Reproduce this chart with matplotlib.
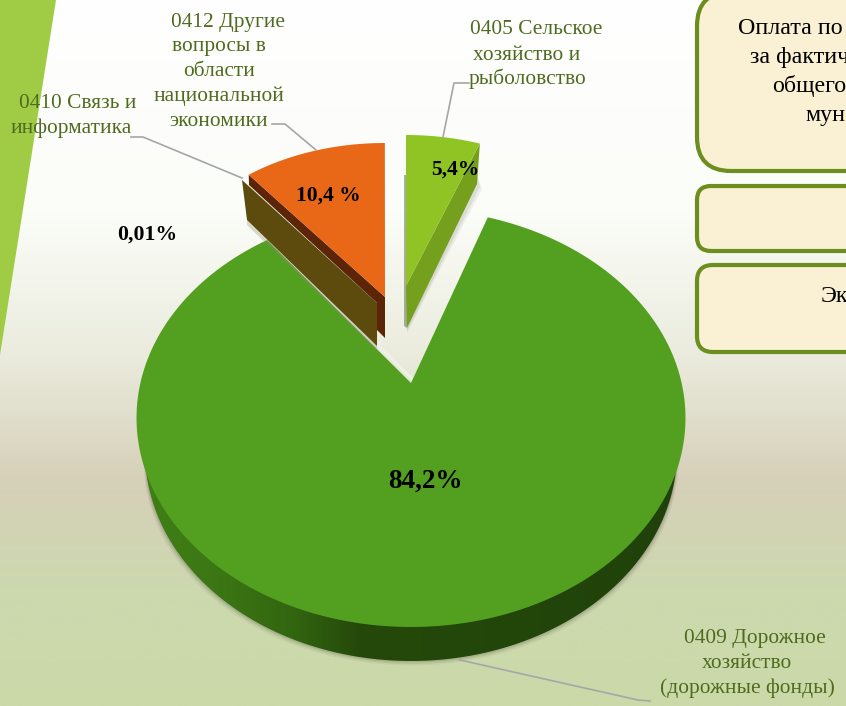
import numpy as np
import matplotlib
matplotlib.use("Agg")
import matplotlib.pyplot as plt
from matplotlib.patches import Polygon, FancyBboxPatch
from matplotlib.colors import LinearSegmentedColormap

plt.rcParams["font.family"] = ["Liberation Serif", "DejaVu Serif"]

sectors = ["0405", "0409", "0412", "0410"]
shares = [5.4, 84.2, 10.4, 0.01]
share_labels = ["5,4%", "84,2%", "10,4 %", "0,01%"]
category_lines = [
    ["0405 Сельское", "хозяйство и", "рыболовство"],
    ["0409 Дорожное", "хозяйство", "(дорожные фонды)"],
    ["0412 Другие", "вопросы в", "области", "национальной", "экономики"],
    ["0410 Связь и", "информатика"],
]
box_lines = ["Оплата по", "за фактич", "общего", "мун", "Эк"]

# angle limits of each slice
edges = np.cumsum([0] + shares) / sum(shares) * 360
edges_by = {s: (edges[i], edges[i + 1]) for i, s in enumerate(sectors)}

W, H = 846, 706
fig = plt.figure(figsize=(W / 100, H / 100), dpi=100)
ax = fig.add_axes([0, 0, 1, 1])

# background
bg = LinearSegmentedColormap.from_list("bg", [
    (0.00, "#ffffff"), (0.30, "#fbfdf8"), (0.50, "#ebecde"),
    (0.68, "#d6d0b9"), (0.85, "#ccd9ae"), (1.00, "#cbd9a9")])
ax.imshow(np.linspace(0, 1, 256)[:, None], cmap=bg, extent=[0, W, H, 0], aspect="auto", zorder=0)
ax.add_patch(Polygon([(0, 0), (56, 0), (0, 355)], fc="#a0cc45", ec="none", zorder=1))


def ray_arc(a0, a1, apex, centre, rx, ry, n=200):
    """Points on an ellipse around centre, along rays leaving the apex at the slice angles."""
    t = np.radians(np.linspace(a0, a1, n))
    dx, dy = np.sin(t) * rx, -np.cos(t) * ry
    ox, oy = (apex[0] - centre[0]) / rx, (apex[1] - centre[1]) / ry
    ux, uy = dx / rx, dy / ry
    a = ux**2 + uy**2
    b = 2 * (ox * ux + oy * uy)
    c = ox**2 + oy**2 - 1
    s = (-b + np.sqrt(b**2 - 4 * a * c)) / (2 * a)
    return np.column_stack([apex[0] + s * dx, apex[1] + s * dy])


def add_poly(pts, color, z, **kw):
    p = Polygon(pts, closed=True, fc=color, ec="none", zorder=z, **kw)
    ax.add_patch(p)
    return p


def half_ellipse(centre, rx, ry, grow=0, n=300):
    # grow fades to nothing at the two ends, so a shadow has no hard top
    t = np.radians(np.linspace(90, 270, n))
    g = grow * np.abs(np.cos(t)) ** 0.6
    return np.column_stack([centre[0] + (rx + g) * np.sin(t), centre[1] - (ry + g * 0.5) * np.cos(t)])


# main slice
main_apex = (411, 383)
main_c = (411, 418)
main_rx, main_ry = 274.5, 209
a0, a1 = edges_by["0409"]
arc = ray_arc(a0, a1, main_apex, main_c, main_rx, main_ry)

# side wall: the lower rim is a narrower ellipse, hidden by the top near the widest point
base_c = (411, 452)
base_rx, base_ry = 266, 209

# soft shadow under the wall
for grow, alpha in [(9, 0.05), (6, 0.08), (3, 0.12)]:
    add_poly(half_ellipse(base_c, base_rx, base_ry, grow), "#303020", 2, alpha=alpha)

side_cm = LinearSegmentedColormap.from_list("side", [
    (0.00, "#3f7f16"), (0.12, "#3c7814"), (0.28, "#326510"), (0.40, "#25490b"), (1.00, "#20420a")])
clip = add_poly(half_ellipse(base_c, base_rx, base_ry), "none", 3)
im = ax.imshow(np.linspace(0, 1, 256)[None, :], cmap=side_cm, aspect="auto", zorder=3,
               extent=[145, 677, 680, 400])
im.set_clip_path(clip)

# light edge along the cut of the main slice
ax.plot([arc[-1, 0] + 3, main_apex[0] + 2], [arc[-1, 1] - 2, main_apex[1] - 3], color="#eef1e6", lw=2, zorder=3)
add_poly(np.vstack([main_apex, arc]), "#53a020", 4)

# 0410: thin slice, seen only as a wall
add_poly([(242, 180), (377, 303), (377, 346), (247, 220)], "#5c4b0d", 6)
add_poly([(247, 225), (377, 351), (377, 346), (247, 220)], "#8a8a70", 5, alpha=0.3)

# 0412 slice
or_apex = (385, 297)
a0, a1 = edges_by["0412"]
arc = ray_arc(a0, a1, or_apex, or_apex, 224, 154)
add_poly([arc[0], or_apex, (385, 338), (377, 330), (377, 303), (249, 185)], "#5c2508", 5)
add_poly(np.vstack([or_apex, arc]), "#e96818", 6)

# 0405 slice
gr_apex = (406, 286)
a0, a1 = edges_by["0405"]
arc = ray_arc(a0, a1, gr_apex, gr_apex, 222, 151)
side = [arc[-1], (477, 184), (407, 328), gr_apex]
for grow, alpha in [(5, 0.07), (3, 0.1)]:
    add_poly([(477 + grow, 184 + grow), (407, 328 + grow), (407, 320), (477, 175)], "#404030", 2, alpha=alpha)
add_poly([(404, 175), (404, 326), (407, 328), (407, 175)], "#6f7f60", 2, alpha=0.6)
add_poly(side, "#74a01e", 5)
add_poly(np.vstack([gr_apex, arc]), "#8fc424", 6)

# leader lines
leaders = [
    ([272, 285, 316], [124, 124, 150]),
    ([131, 143, 242], [137, 137, 178]),
    ([469, 454, 443], [83, 83, 137]),
    ([460, 638, 650], [660, 700, 701]),
]
for lx, ly in leaders:
    ax.plot(lx, ly, color="#a6a6a6", lw=1.2, zorder=7)

# category labels
label_pos = [
    [(536, 29), (527, 55), (527, 79)],
    [(755, 639), (747, 664), (747, 688)],
    [(228, 23), (219, 47), (219, 72), (219, 96), (219, 121)],
    [(78, 103), (71, 128)],
]
for lines, pos in zip(category_lines, label_pos):
    for s, (x, y) in zip(lines, pos):
        ax.text(x, y, s, color="#4f6b1f", fontsize=15.4, ha="center", va="center", zorder=8)

# share labels
share_pos = [(455, 170), (425, 481), (328, 196), (147, 235)]
share_size = [15.5, 19.5, 15.5, 15.7]
for s, (x, y), fs in zip(share_labels, share_pos, share_size):
    ax.text(x, y, s, color="black", fontsize=fs, fontweight="bold", ha="center", va="center", zorder=8)

# boxes at the right edge, cut by the frame as in the original slide
boxes = [(697, -8, 200, 179, 34), (697, 186, 200, 65, 14), (697, 265, 200, 87, 16)]
for x, y, w, h, r in boxes:
    ax.add_patch(FancyBboxPatch((x + r, y + r), w - 2 * r, h - 2 * r, boxstyle=f"round,pad={r},rounding_size={r}",
                                fc="#faf0d3", ec="#6b8e1e", lw=3, zorder=7))
box_pos = [(738, 28), (750, 57), (772, 86), (805, 115), (821, 296)]
for s, (x, y) in zip(box_lines, box_pos):
    ax.text(x, y, s, color="black", fontsize=17.3, ha="left", va="center", zorder=8, clip_on=True)

ax.set_xlim(0, W)
ax.set_ylim(H, 0)
ax.axis("off")
fig.savefig("out.png", dpi=100)
